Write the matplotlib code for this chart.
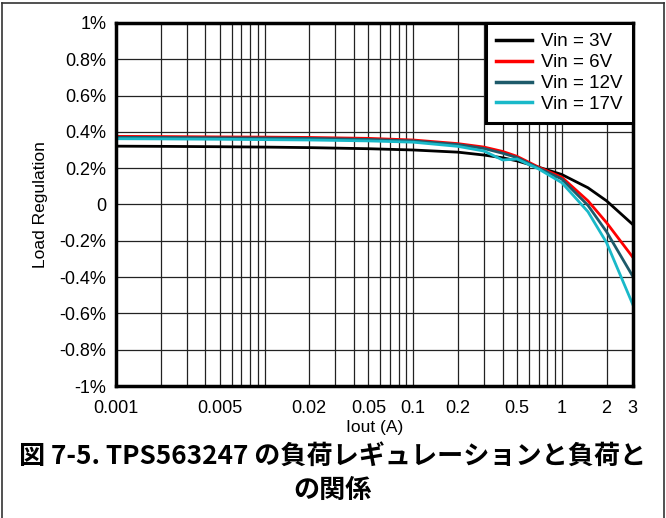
import numpy as np
import matplotlib
matplotlib.use("Agg")
import matplotlib.pyplot as plt
from matplotlib.ticker import FixedLocator, FixedFormatter, LogLocator, NullFormatter

# data
iout = [0.001, 0.002, 0.005, 0.01, 0.02, 0.05, 0.1, 0.2, 0.3, 0.4, 0.5, 0.7, 1, 1.5, 2, 3]
vin3 = [0.321, 0.320, 0.318, 0.316, 0.313, 0.307, 0.300, 0.288, 0.272, 0.257, 0.240, 0.205, 0.165, 0.092, 0.020, -0.110]
vin6 = [0.375, 0.374, 0.372, 0.371, 0.369, 0.364, 0.355, 0.335, 0.316, 0.292, 0.265, 0.205, 0.150, 0.020, -0.100, -0.290]
vin12 = [0.370, 0.369, 0.367, 0.366, 0.364, 0.358, 0.350, 0.330, 0.308, 0.282, 0.258, 0.200, 0.140, -0.005, -0.150, -0.395]
vin17 = [0.362, 0.361, 0.359, 0.357, 0.355, 0.350, 0.343, 0.320, 0.294, 0.245, 0.250, 0.195, 0.120, -0.040, -0.210, -0.550]
labels = ["Vin = 3V", "Vin = 6V", "Vin = 12V", "Vin = 17V"]
colors = ["#000000", "#ff0000", "#1d5a6a", "#19b9c9"]

xticks = [0.001, 0.005, 0.02, 0.05, 0.1, 0.2, 0.5, 1, 2, 3]
xticklabels = ["0.001", "0.005", "0.02", "0.05", "0.1", "0.2", "0.5", "1", "2", "3"]
yticks = [-1, -0.8, -0.6, -0.4, -0.2, 0, 0.2, 0.4, 0.6, 0.8, 1]
yticklabels = ["-1%", "-0.8%", "-0.6%", "-0.4%", "-0.2%", "0", "0.2%", "0.4%", "0.6%", "0.8%", "1%"]

caption1 = "図 7-5. TPS563247 の負荷レギュレーションと負荷と"
caption2 = "の関係"

plt.rcParams['font.family'] = ['Liberation Sans', 'DejaVu Sans']

fig = plt.figure(figsize=(6.66, 5.18), dpi=100)
ax = fig.add_axes([0.174, 0.2548, 0.776, 0.701])

for y, lab, c in zip([vin3, vin6, vin12, vin17], labels, colors):
    ax.plot(iout, y, color=c, lw=2, label=lab)

ax.set_xscale("log")
ax.set_xlim(0.001, 3)
ax.set_ylim(-1, 1)

ax.xaxis.set_major_locator(FixedLocator(xticks))
ax.xaxis.set_major_formatter(FixedFormatter(xticklabels))
ax.xaxis.set_minor_locator(LogLocator(base=10, subs=np.arange(1, 10)))
ax.xaxis.set_minor_formatter(NullFormatter())
ax.set_yticks(yticks)
ax.set_yticklabels(yticklabels)

ax.grid(True, which="both", axis="x", color="#222222", lw=0.9)
ax.grid(True, which="major", axis="y", color="#222222", lw=0.9)
ax.tick_params(which="both", length=0, labelsize=13)
ax.tick_params(axis="x", pad=10)
ax.tick_params(axis="y", pad=7)
for s in ax.spines.values():
    s.set_linewidth(2.5)

ax.set_xlabel("Iout (A)", fontsize=12.5, labelpad=2)
ax.set_ylabel("Load Regulation", fontsize=12.5, labelpad=8)

leg = ax.legend(loc="upper right", borderaxespad=0, fancybox=False, framealpha=1,
                edgecolor="black", fontsize=13.5, handlelength=1.9, labelspacing=0.2,
                borderpad=0.55, handletextpad=0.5)
leg.get_frame().set_linewidth(2.2)
for h in leg.get_lines():
    h.set_linewidth(2.5)

cjk = ['Noto Sans CJK JP', 'DejaVu Sans']
fig.text(0.5, 0.12, caption1, ha="center", va="center", fontsize=18.8,
         fontweight="bold", family=cjk)
fig.text(0.5, 0.053, caption2, ha="center", va="center", fontsize=18.8,
         fontweight="bold", family=cjk)

# outer frame
for xs, ys in [([0.003, 0.997], [0.994, 0.994]), ([0.003, 0.003], [0, 0.994]), ([0.997, 0.997], [0, 0.994])]:
    fig.add_artist(plt.Line2D(xs, ys, color="#333333", lw=1.2, transform=fig.transFigure))

fig.savefig("out.png", dpi=100)
